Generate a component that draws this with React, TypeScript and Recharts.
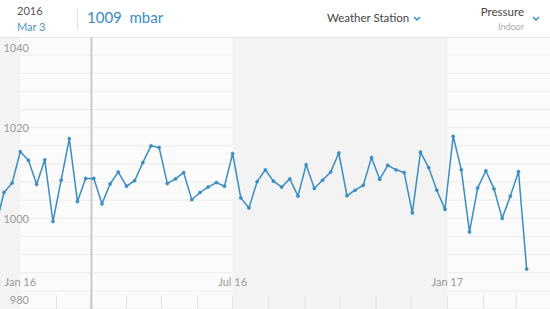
import { LineChart, Line, XAxis, YAxis, CartesianGrid, ReferenceArea, ReferenceLine } from "recharts";

// days counted from Jan 1 2016
const firstWeekDay = -21;
const pressure = [
  998.3, 1005.7, 1007.8, 1014.7, 1012.8, 1007.5, 1012.9, 999.3, 1008.4, 1017.6,
  1003.7, 1008.8, 1008.8, 1003.2, 1007.6, 1010.2, 1007.1, 1008.3, 1012.3, 1016.0,
  1015.6, 1007.7, 1008.7, 1010.1, 1004.1, 1005.7, 1006.9, 1007.9, 1007.1, 1014.3,
  1004.5, 1002.3, 1008.1, 1010.7, 1008.2, 1006.9, 1008.7, 1004.9, 1011.8, 1006.6,
  1008.4, 1010.2, 1014.4, 1005.0, 1006.2, 1007.3, 1013.4, 1008.6, 1011.7, 1010.7,
  1010.1, 1001.2, 1014.6, 1011.2, 1006.2, 1002.0, 1018.1, 1010.7, 997.0, 1006.7,
  1010.5, 1006.5, 1000.0, 1004.9, 1010.3, 988.8,
];
const monthStarts = [31, 60, 91, 121, 152, 182, 213, 244, 274, 305, 335, 366, 397, 425];
const labelTicks = [0, 182, 366];
const labelNames: Record<number, string> = { 0: "Jan 16", 182: "Jul 16", 366: "Jan 17" };
const shadedRanges = [[-17.4, 0], [182, 366]];
const gridValues = [980, 984, 988, 992, 996, 1000, 1004, 1008, 1012, 1016, 1020, 1024, 1028, 1032, 1036, 1040];
const labelValues = [980, 1000, 1020, 1040];
const cursorDay = 61;

const data = pressure.map((v, i) => ({ day: firstWeekDay + i * 7, value: v }));

const BLUE = "#3b8dc2";
const FONT = "Lato, 'Open Sans', sans-serif";

function YTick(props: any) {
  const { y, payload } = props;
  if (!labelValues.includes(payload.value)) return <g />;
  const yy = Math.min(Math.max(y, 10), 262);
  return (
    <text x={29} y={yy} textAnchor="end" dominantBaseline="central" fontSize={11} fill="#9a9a9a" fontFamily={FONT}>
      {payload.value}
    </text>
  );
}

function XTick(props: any) {
  const { x, payload } = props;
  return (
    <text x={x} y={244} textAnchor="middle" dominantBaseline="central" fontSize={11} fill="#9a9a9a" fontFamily={FONT}>
      {labelNames[payload.value]}
    </text>
  );
}

function Chevron() {
  return (
    <svg width="8" height="6" style={{ display: "block" }}>
      <polyline points="1,1 4,4 7,1" fill="none" stroke={BLUE} strokeWidth="1.5" />
    </svg>
  );
}

export default function App() {
  return (
    <div style={{ position: "absolute", left: 0, top: 0, width: 550, height: 309, background: "#fbfbfb", fontFamily: FONT, overflow: "hidden" }}>
      <div style={{ position: "absolute", top: 37, left: 0 }}>
        <LineChart width={550} height={272} data={data} margin={{ top: 0, right: 0, bottom: 0, left: 0 }}>
          {shadedRanges.map(([a, b]) => (
            <ReferenceArea key={a} x1={a} x2={b} fill="#f3f3f3" fillOpacity={1} stroke="none" ifOverflow="hidden" />
          ))}
          <CartesianGrid vertical={false} stroke="#ececec" />
          <XAxis
            dataKey="day"
            type="number"
            domain={[-17.4, 454]}
            allowDataOverflow
            ticks={labelTicks}
            interval={0}
            tick={<XTick />}
            tickLine={false}
            axisLine={false}
            mirror
          />
          <YAxis
            domain={[980, 1040]}
            ticks={gridValues}
            interval={0}
            tick={<YTick />}
            tickLine={false}
            axisLine={false}
            mirror
            allowDataOverflow
          />
          {monthStarts.map((d) => (
            <ReferenceLine key={d} segment={[{ x: d, y: 980 }, { x: d, y: 983 }]} stroke="#e2e2e2" strokeWidth={1} />
          ))}
          <ReferenceLine x={cursorDay} stroke="#c9c9c9" strokeWidth={2} />
          <Line
            type="linear"
            dataKey="value"
            stroke={BLUE}
            strokeWidth={1.5}
            dot={{ r: 1.6, fill: BLUE, stroke: BLUE, strokeWidth: 0.5 }}
            isAnimationActive={false}
          />
        </LineChart>
      </div>
      <div style={{ position: "absolute", left: 0, top: 0, width: 550, height: 37, background: "#fff", borderBottom: "1px solid #e6e6e6" }}>
        <div style={{ position: "absolute", left: 17, top: 4, fontSize: 11, color: "#555" }}>2016</div>
        <div style={{ position: "absolute", left: 17, top: 20, fontSize: 11, color: "#4b95c9" }}>Mar 3</div>
        <div style={{ position: "absolute", left: 77, top: 8, width: 1, height: 22, background: "#e0e0e0" }} />
        <div style={{ position: "absolute", left: 87, top: 8, fontSize: 15, color: BLUE, whiteSpace: "pre" }}>1009  mbar</div>
        <div style={{ position: "absolute", left: 327, top: 11, fontSize: 11.5, color: "#444" }}>Weather Station</div>
        <div style={{ position: "absolute", left: 413, top: 16 }}><Chevron /></div>
        <div style={{ position: "absolute", right: 26, top: 5, fontSize: 11.5, color: "#444", textAlign: "right" }}>Pressure</div>
        <div style={{ position: "absolute", right: 26, top: 21, fontSize: 9, color: "#aaa", textAlign: "right" }}>Indoor</div>
        <div style={{ position: "absolute", left: 532, top: 16 }}><Chevron /></div>
      </div>
    </div>
  );
}
